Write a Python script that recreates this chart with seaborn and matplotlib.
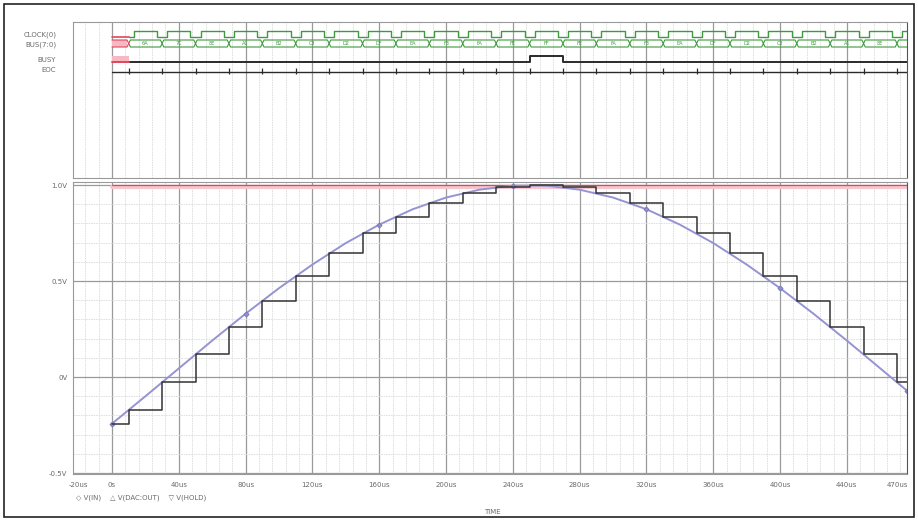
import matplotlib
matplotlib.use("Agg")
import matplotlib.pyplot as plt
from matplotlib.patches import Rectangle
from matplotlib.ticker import MultipleLocator
import pandas as pd
import seaborn as sns

# analog input sine (time in us, volts)
SINE_T = [0, 20, 40, 60, 80, 100, 120, 140, 160, 180, 200, 220, 240,
          260, 280, 300, 320, 340, 360, 380, 400, 420, 440, 460, 476]
SINE_V = [-0.243, -0.100, 0.045, 0.190, 0.330, 0.463, 0.586, 0.698, 0.794,
          0.874, 0.935, 0.976, 0.997, 0.997, 0.976, 0.935, 0.874, 0.794,
          0.698, 0.586, 0.463, 0.330, 0.190, 0.045, -0.071]

# sample instants and held DAC output
SAMPLE_T = [10, 30, 50, 70, 90, 110, 130, 150, 170, 190, 210, 230,
            250, 270, 290, 310, 330, 350, 370, 390, 410, 430, 450, 470]
SAMPLE_V = [-0.172, -0.027, 0.118, 0.260, 0.397, 0.526, 0.644, 0.748,
            0.836, 0.907, 0.958, 0.990, 1.000, 0.990, 0.958, 0.907,
            0.836, 0.748, 0.644, 0.526, 0.397, 0.260, 0.118, -0.027]
HOLD_START_V = -0.243
REF_V = 1.0

BUS_CODES = ["6A", "7C", "8E", "A1", "B2", "C3", "D2", "DF", "EA", "F3",
             "FA", "FE", "FF", "FE", "FA", "F3", "EA", "DF", "D2", "C3",
             "B2", "A1", "8E", "7C"]
BUSY_HIGH = [250, 270]

ROW_NAMES = ["CLOCK(0)", "BUS(7:0)", "BUSY", "EOC"]
T_END = 476
X_TICKS = [0, 40, 80, 120, 160, 200, 240, 280, 320, 360, 400, 440]
X_LABELS = ["0s", "40us", "80us", "120us", "160us", "200us", "240us",
            "280us", "320us", "360us", "400us", "440us"]
Y_TICKS = [-0.5, 0.0, 0.5, 1.0]
Y_LABELS = ["-0.5V", "0V", "0.5V", "1.0V"]

sns.set_theme(style="white")
plt.rcParams["font.family"] = ["DejaVu Sans"]

W, H = 918, 521
fig = plt.figure(figsize=(W / 100, H / 100), dpi=100)
fig.patches.append(Rectangle((4 / W, 4 / H), 1 - 8 / W, 1 - 8 / H,
                             transform=fig.transFigure, fill=False,
                             edgecolor="#222222", lw=1.2))

left, right = 73 / W, 907 / W
ax_top = fig.add_axes([left, (H - 178) / H, right - left, 156 / H])
ax = fig.add_axes([left, (H - 474) / H, right - left, 292 / H], sharex=ax_top)

TXT = "#6a6a6a"
GREEN = "#3f9a3f"
RED = "#e0465a"

for a in (ax_top, ax):
    a.set_facecolor("white")
    a.xaxis.set_major_locator(MultipleLocator(40))
    a.xaxis.set_minor_locator(MultipleLocator(8))
    a.grid(which="major", axis="x", color="#9a9a9a", lw=0.9)
    a.grid(which="minor", axis="x", color="#dcdcdc", lw=0.6, ls=(0, (2, 1)))
    for s in a.spines.values():
        s.set_color("#9a9a9a")
        s.set_linewidth(0.8)
    a.spines["right"].set_color("#555555")
    a.tick_params(which="both", length=0, labelsize=5, colors=TXT)
    a.set_axisbelow(True)

ax.set_xlim(-23.35, T_END)

# ---- digital panel ----
ax_top.set_ylim(156, 0)
ax_top.set_yticks([12, 22, 37, 47.5])
ax_top.set_yticklabels(ROW_NAMES)
ax_top.tick_params(axis="y", pad=12)
ax_top.tick_params(axis="x", labelbottom=False)

CLK_HI, CLK_LO = 9, 15
clk_t, clk_y = [10], [CLK_LO]
clk_t.append(13)
clk_y.append(CLK_HI)
for s in SAMPLE_T[1:]:
    clk_t += [s - 3, s + 3]
    clk_y += [CLK_LO, CLK_HI]
clk_t.append(T_END)
clk_y.append(CLK_HI)
sns.lineplot(x=clk_t, y=clk_y, ax=ax_top, color=GREEN, lw=1.0,
             drawstyle="steps-post", estimator=None, sort=False)
ax_top.plot([0, 10], [CLK_LO, CLK_LO], color=RED, lw=1.2)

BUS_TOP, BUS_BOT = 18, 25
bus_mid = (BUS_TOP + BUS_BOT) / 2
up_t, up_y, lo_t, lo_y = [], [], [], []
for s in SAMPLE_T:
    up_t += [s - 1, s, s + 1]
    up_y += [BUS_TOP, bus_mid, BUS_TOP]
    lo_t += [s - 1, s, s + 1]
    lo_y += [BUS_BOT, bus_mid, BUS_BOT]
up_t.append(T_END)
up_y.append(BUS_TOP)
lo_t.append(T_END)
lo_y.append(BUS_BOT)
sns.lineplot(x=up_t[1:], y=up_y[1:], ax=ax_top, color=GREEN, lw=0.8,
             estimator=None, sort=False)
sns.lineplot(x=lo_t[1:], y=lo_y[1:], ax=ax_top, color=GREEN, lw=0.8,
             estimator=None, sort=False)
ax_top.fill_between([0, 9], BUS_TOP, BUS_BOT, color="#f6b8c2", lw=0)
ax_top.plot([0, 9, 10, 9, 0], [BUS_TOP, BUS_TOP, bus_mid, BUS_BOT, BUS_BOT],
            color=RED, lw=0.8)
ends = SAMPLE_T[1:] + [T_END]
for s, e, code in zip(SAMPLE_T, ends, BUS_CODES):
    if e - s > 10:
        ax_top.text((s + e) / 2, bus_mid + 0.3, code, color=GREEN,
                    fontsize=3.6, ha="center", va="center")

BUSY_LO, BUSY_HI = 40, 34
busy_t = [10, BUSY_HIGH[0], BUSY_HIGH[1], T_END]
busy_y = [BUSY_LO, BUSY_HI, BUSY_LO, BUSY_LO]
sns.lineplot(x=busy_t, y=busy_y, ax=ax_top, color="#2a2a2a", lw=1.4,
             drawstyle="steps-post", estimator=None, sort=False)
ax_top.fill_between([0, 10], BUSY_HI, BUSY_LO, color="#f6b8c2", lw=0)
ax_top.plot([0, 10], [BUSY_LO, BUSY_LO], color=RED, lw=1.4)

EOC_Y = 50
sns.lineplot(x=[0, T_END], y=[EOC_Y, EOC_Y], ax=ax_top, color="#2a2a2a",
             lw=1.0, estimator=None)
ax_top.vlines(SAMPLE_T, EOC_Y - 4, EOC_Y + 2, color="#2a2a2a", lw=0.9)

# ---- analog panel ----
ax.set_ylim(-0.505, 1.016)
ax.yaxis.set_minor_locator(MultipleLocator(0.1))
ax.set_yticks(Y_TICKS)
ax.set_yticklabels(Y_LABELS)
ax.grid(which="major", axis="y", color="#9a9a9a", lw=0.9)
ax.grid(which="minor", axis="y", color="#dcdcdc", lw=0.6, ls=(0, (2, 1)))
ax.set_xticks(X_TICKS)
ax.set_xticklabels(X_LABELS)
ax.tick_params(axis="x", pad=6)
ax.tick_params(axis="y", pad=4)
ax.text(-20, -0.545, "-20us", transform=ax.transData, fontsize=5,
        color=TXT, ha="center", va="top")
ax.text(470, -0.545, "470us", transform=ax.transData, fontsize=5,
        color=TXT, ha="center", va="top")

ax.plot([0, T_END], [REF_V - 0.012, REF_V - 0.012], color="#f8c6cd", lw=3)
sns.lineplot(x=[0, T_END], y=[REF_V, REF_V], ax=ax, color=RED, lw=0.9,
             estimator=None)

sine = pd.DataFrame({"t": SINE_T, "v": SINE_V})
sns.lineplot(data=sine, x="t", y="v", ax=ax, color="#9494d2", lw=1.4,
             estimator=None, marker="D", markersize=2.5, markevery=4,
             markeredgecolor="#7a7ab8")

stair = pd.DataFrame({"t": [0] + SAMPLE_T + [T_END],
                      "v": [HOLD_START_V] + SAMPLE_V + [SAMPLE_V[-1]]})
sns.lineplot(data=stair, x="t", y="v", ax=ax, color="#333333", lw=1.1,
             drawstyle="steps-post", estimator=None)

ax.set_xlabel("")
ax.set_ylabel("")
ax_top.set_xlabel("")
ax_top.set_ylabel("")

fig.text(76 / W, 1 - 498 / H, "\u25c7 V(IN)    \u25b3 V(DAC:OUT)    \u25bd V(HOLD)",
         fontsize=5, color=TXT, va="center", ha="left")
fig.text(492 / W, 1 - 512 / H, "TIME", fontsize=5, color=TXT,
         va="center", ha="center")

fig.savefig("out.png", dpi=100, facecolor="white")
